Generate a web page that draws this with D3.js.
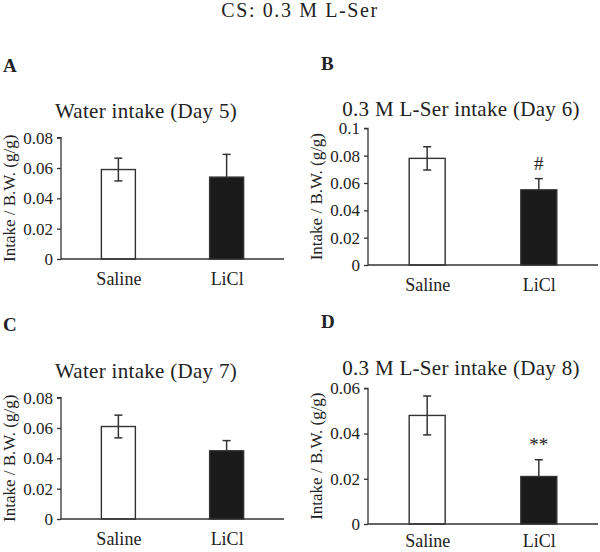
<!DOCTYPE html>
<html>
<head>
<meta charset="utf-8">
<script src="https://cdn.jsdelivr.net/npm/d3@7/dist/d3.min.js"></script>
<style>
  html, body { margin: 0; padding: 0; background: #fff; }
  text { font-family: "Liberation Serif", "Times New Roman", serif; fill: #222; }
</style>
</head>
<body>
<svg id="chart" width="600" height="552"></svg>
<script>
// ---- data ----
const mainTitle = "CS: 0.3 M L-Ser";
const categories = ["Saline", "LiCl"];
const panelLabels = ["A", "B", "C", "D"];
const panelTitles = [
  "Water intake (Day 5)",
  "0.3 M L-Ser intake (Day 6)",
  "Water intake (Day 7)",
  "0.3 M L-Ser intake (Day 8)"
];
const yAxisTitle = "Intake / B.W. (g/g)";
const meansA = [0.059, 0.054];
const errsA  = [0.0075, 0.015];
const meansB = [0.078, 0.055];
const errsB  = [0.0085, 0.0082];
const meansC = [0.061, 0.045];
const errsC  = [0.0075, 0.0067];
const meansD = [0.048, 0.021];
const errsD  = [0.0086, 0.0074];
const yMaxes = [0.08, 0.1, 0.08, 0.06];
const tickValuesA = [0, 0.02, 0.04, 0.06, 0.08];
const tickValuesB = [0, 0.02, 0.04, 0.06, 0.08, 0.1];
const tickValuesC = [0, 0.02, 0.04, 0.06, 0.08];
const tickValuesD = [0, 0.02, 0.04, 0.06];
const tickLabelsA = ["0", "0.02", "0.04", "0.06", "0.08"];
const tickLabelsB = ["0", "0.02", "0.04", "0.06", "0.08", "0.1"];
const tickLabelsC = ["0", "0.02", "0.04", "0.06", "0.08"];
const tickLabelsD = ["0", "0.02", "0.04", "0.06"];
const significance = [["", ""], ["", "#"], ["", ""], ["", "**"]];
const barFills = ["#ffffff", "#1a1a1a"];

// ---- layout ----
const svg = d3.select("#chart");
svg.append("text")
  .attr("x", 300).attr("y", 17)
  .attr("text-anchor", "middle")
  .style("font-size", "20px")
  .style("letter-spacing", "1.6px")
  .text(mainTitle);

const panels = [
  { means: meansA, errs: errsA, ticks: tickValuesA, labels: tickLabelsA,
    label: [3, 72], axisX: 61, yTop: 137.7, y0: 259, xEnd: 284, title: [146, 118], xlab: 285, ytitleX: 15, barW: 34 },
  { means: meansB, errs: errsB, ticks: tickValuesB, labels: tickLabelsB,
    label: [321, 70], axisX: 368, yTop: 128.3, y0: 265, xEnd: 598, title: [461, 116], xlab: 291, ytitleX: 322, barW: 36 },
  { means: meansC, errs: errsC, ticks: tickValuesC, labels: tickLabelsC,
    label: [3, 331], axisX: 61, yTop: 397.7, y0: 519, xEnd: 284, title: [146, 378], xlab: 545, ytitleX: 15, barW: 34 },
  { means: meansD, errs: errsD, ticks: tickValuesD, labels: tickLabelsD,
    label: [321, 328], axisX: 368, yTop: 388.3, y0: 524, xEnd: 598, title: [461, 375], xlab: 547, ytitleX: 322, barW: 36 }
];

panels.forEach((p, i) => {
  const g = svg.append("g");
  const y = d3.scaleLinear().domain([0, yMaxes[i]]).range([p.y0, p.yTop]);
  const x = d3.scalePoint().domain(categories).range([p.axisX, p.xEnd]).padding(0.53);

  // panel letter
  g.append("text").attr("x", p.label[0]).attr("y", p.label[1])
    .style("font-size", "19px").style("font-weight", "bold")
    .text(panelLabels[i]);

  // panel title
  g.append("text").attr("x", p.title[0]).attr("y", p.title[1])
    .attr("text-anchor", "middle").style("font-size", "21px")
    .style("letter-spacing", "0.3px")
    .text(panelTitles[i]);

  // y axis
  const yAxis = d3.axisLeft(y).tickValues(p.ticks)
    .tickFormat((d, k) => p.labels[k]).tickSize(4).tickPadding(4);
  const ya = g.append("g").attr("transform", `translate(${p.axisX},0)`).call(yAxis);
  ya.select(".domain").attr("d", `M-4,${p.yTop}H0V${p.y0}`).attr("stroke", "#333").attr("stroke-width", 1.3);
  ya.selectAll(".tick line").attr("stroke", "#333").attr("stroke-width", 1.3);
  ya.selectAll(".tick text").style("font-size", "17px").style("font-family", "Liberation Serif, serif").attr("fill", "#222");

  // x axis
  const xa = g.append("g").attr("transform", `translate(0,${p.y0})`)
    .call(d3.axisBottom(x).tickSize(0).tickPadding(10));
  xa.select(".domain").attr("d", `M${p.axisX},0H${p.xEnd}`).attr("stroke", "#333").attr("stroke-width", 1.3);
  xa.selectAll(".tick text").style("font-size", "18px").style("font-family", "Liberation Serif, serif")
    .attr("fill", "#222").attr("dy", null).attr("y", p.xlab - p.y0);

  // y axis title
  g.append("text")
    .attr("transform", `translate(${p.ytitleX},${(p.yTop + p.y0) / 2}) rotate(-90)`)
    .attr("text-anchor", "middle").style("font-size", "17px")
    .text(yAxisTitle);

  // bars
  categories.forEach((c, k) => {
    const cx = x(c);
    const v = p.means[k], e = p.errs[k];
    // error bar
    g.append("line").attr("x1", cx).attr("x2", cx).attr("y1", y(v - e)).attr("y2", y(v + e))
      .attr("stroke", "#333").attr("stroke-width", 1.5);
    [v - e, v + e].forEach(ev => {
      g.append("line").attr("x1", cx - 4).attr("x2", cx + 4).attr("y1", y(ev)).attr("y2", y(ev))
        .attr("stroke", "#333").attr("stroke-width", 1.5);
    });
    g.append("rect")
      .attr("x", cx - p.barW / 2).attr("width", p.barW)
      .attr("y", y(v)).attr("height", p.y0 - y(v))
      .attr("fill", barFills[k]).attr("fill-opacity", k === 0 ? 0 : 1)
      .attr("stroke", "#333").attr("stroke-width", 1.4);
    if (significance[i][k]) {
      g.append("text").attr("x", cx).attr("y", y(v + e) - 9)
        .attr("text-anchor", "middle").style("font-size", "19px")
        .text(significance[i][k]);
    }
  });
});
</script>
</body>
</html>
